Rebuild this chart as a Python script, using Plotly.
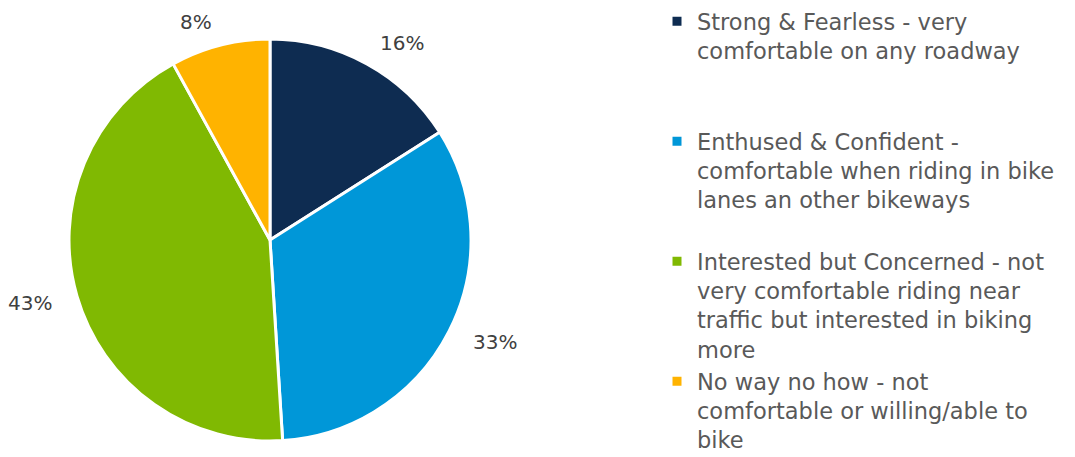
import numpy as np
import plotly.graph_objects as go

# Cyclist types and their share of respondents
categories = [
    "Strong & Fearless - very<br>comfortable on any roadway",
    "Enthused & Confident -<br>comfortable when riding in bike<br>lanes an other bikeways",
    "Interested but Concerned - not<br>very comfortable riding near<br>traffic but interested in biking<br>more",
    "No way no how - not<br>comfortable or willing/able to<br>bike",
]
shares = [16, 33, 43, 8]
colors = ["#0E2C51", "#0097D8", "#80B902", "#FFB300"]

# blank lines added after each legend entry
spacer_lines = [2, 1, 0, 0]

W, H = 1075, 457
cx, cy, R = 270, 240, 201  # pie centre and radius in px

legend_text = [c + "<br> " * n for c, n in zip(categories, spacer_lines)]

fig = go.Figure()
fig.add_trace(go.Pie(
    labels=legend_text,
    values=shares,
    sort=False,
    direction="clockwise",
    rotation=0,
    marker=dict(colors=colors, line=dict(color="white", width=3)),
    textinfo="none",
    hoverinfo="label+percent",
    domain=dict(x=[(cx - R) / W, (cx + R) / W],
                y=[(H - cy - R) / H, (H - cy + R) / H]),
))

# percentage labels placed just outside each slice's mid angle
vals = np.array(shares, dtype=float)
frac = vals / vals.sum()
mid = (np.cumsum(frac) - frac / 2) * 2 * np.pi
r_lab = R * 1.12
for f, a in zip(frac, mid):
    px = cx + r_lab * np.sin(a)
    py = cy - r_lab * np.cos(a)
    fig.add_annotation(
        x=px / W, y=1 - py / H, xref="paper", yref="paper",
        text=f"{f * 100:.0f}%", showarrow=False,
        xanchor="left" if np.sin(a) > 0 else "right",
        yanchor="middle",
        font=dict(family="DejaVu Sans", size=20, color="#404040"),
    )

fig.update_layout(
    width=W, height=H,
    margin=dict(l=0, r=0, t=0, b=0),
    paper_bgcolor="white",
    plot_bgcolor="white",
    showlegend=True,
    legend=dict(
        x=657 / W, y=1, xanchor="left", yanchor="top",
        valign="top",
        maxheight=700,
        font=dict(family="DejaVu Sans", size=22.5, color="#595959"),
        tracegroupgap=0,
        itemclick=False,
    ),
)

fig.write_html("out.html")
